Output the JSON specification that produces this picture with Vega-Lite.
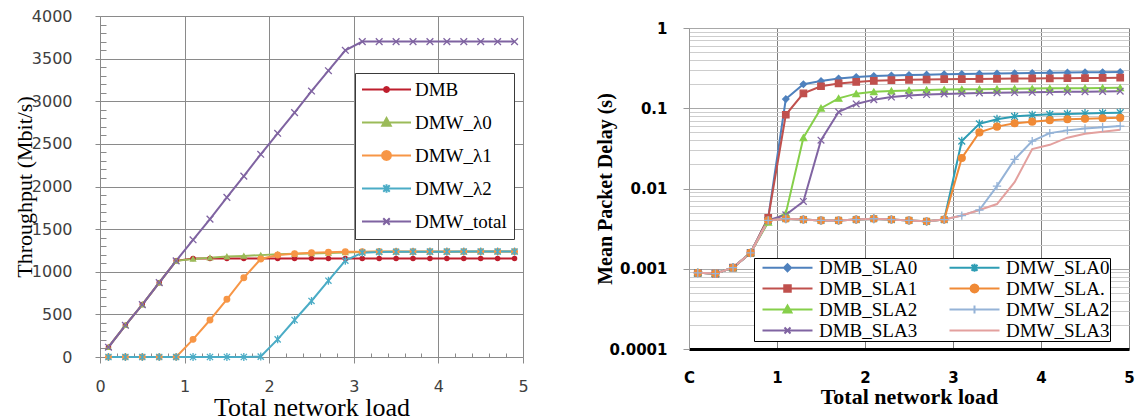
{
"$schema": "https://vega.github.io/schema/vega-lite/v6.json",
"background": "white",
"padding": {"left": 13, "top": 8, "right": 0, "bottom": 0},
"spacing": 58,
"config": {"view": {"stroke": null}},
"hconcat": [
{
"width": 423, "height": 341,
"data": {"values": [
{"x":0.1,"y":115,"s":"DMB"},{"x":0.3,"y":372,"s":"DMB"},{"x":0.5,"y":615,"s":"DMB"},{"x":0.7,"y":872,"s":"DMB"},{"x":0.9,"y":1128,"s":"DMB"},{"x":1.1,"y":1155,"s":"DMB"},{"x":1.3,"y":1155,"s":"DMB"},{"x":1.5,"y":1155,"s":"DMB"},{"x":1.7,"y":1155,"s":"DMB"},{"x":1.9,"y":1155,"s":"DMB"},{"x":2.1,"y":1155,"s":"DMB"},{"x":2.3,"y":1155,"s":"DMB"},{"x":2.5,"y":1155,"s":"DMB"},{"x":2.7,"y":1155,"s":"DMB"},{"x":2.9,"y":1155,"s":"DMB"},{"x":3.1,"y":1155,"s":"DMB"},{"x":3.3,"y":1155,"s":"DMB"},{"x":3.5,"y":1155,"s":"DMB"},{"x":3.7,"y":1155,"s":"DMB"},{"x":3.9,"y":1155,"s":"DMB"},{"x":4.1,"y":1155,"s":"DMB"},{"x":4.3,"y":1155,"s":"DMB"},{"x":4.5,"y":1155,"s":"DMB"},{"x":4.7,"y":1155,"s":"DMB"},{"x":4.9,"y":1155,"s":"DMB"},
{"x":0.1,"y":115,"s":"DMW_λ0"},{"x":0.3,"y":372,"s":"DMW_λ0"},{"x":0.5,"y":615,"s":"DMW_λ0"},{"x":0.7,"y":872,"s":"DMW_λ0"},{"x":0.9,"y":1128,"s":"DMW_λ0"},{"x":1.1,"y":1150,"s":"DMW_λ0"},{"x":1.3,"y":1165,"s":"DMW_λ0"},{"x":1.5,"y":1178,"s":"DMW_λ0"},{"x":1.7,"y":1186,"s":"DMW_λ0"},{"x":1.9,"y":1195,"s":"DMW_λ0"},{"x":2.1,"y":1205,"s":"DMW_λ0"},{"x":2.3,"y":1210,"s":"DMW_λ0"},{"x":2.5,"y":1215,"s":"DMW_λ0"},{"x":2.7,"y":1220,"s":"DMW_λ0"},{"x":2.9,"y":1225,"s":"DMW_λ0"},{"x":3.1,"y":1232,"s":"DMW_λ0"},{"x":3.3,"y":1234,"s":"DMW_λ0"},{"x":3.5,"y":1235,"s":"DMW_λ0"},{"x":3.7,"y":1235,"s":"DMW_λ0"},{"x":3.9,"y":1236,"s":"DMW_λ0"},{"x":4.1,"y":1236,"s":"DMW_λ0"},{"x":4.3,"y":1236,"s":"DMW_λ0"},{"x":4.5,"y":1237,"s":"DMW_λ0"},{"x":4.7,"y":1237,"s":"DMW_λ0"},{"x":4.9,"y":1237,"s":"DMW_λ0"},
{"x":0.1,"y":0,"s":"DMW_λ1"},{"x":0.3,"y":0,"s":"DMW_λ1"},{"x":0.5,"y":0,"s":"DMW_λ1"},{"x":0.7,"y":0,"s":"DMW_λ1"},{"x":0.9,"y":0,"s":"DMW_λ1"},{"x":1.1,"y":207,"s":"DMW_λ1"},{"x":1.3,"y":434,"s":"DMW_λ1"},{"x":1.5,"y":677,"s":"DMW_λ1"},{"x":1.7,"y":930,"s":"DMW_λ1"},{"x":1.9,"y":1150,"s":"DMW_λ1"},{"x":2.1,"y":1196,"s":"DMW_λ1"},{"x":2.3,"y":1212,"s":"DMW_λ1"},{"x":2.5,"y":1224,"s":"DMW_λ1"},{"x":2.7,"y":1228,"s":"DMW_λ1"},{"x":2.9,"y":1235,"s":"DMW_λ1"},{"x":3.1,"y":1236,"s":"DMW_λ1"},{"x":3.3,"y":1237,"s":"DMW_λ1"},{"x":3.5,"y":1237,"s":"DMW_λ1"},{"x":3.7,"y":1238,"s":"DMW_λ1"},{"x":3.9,"y":1238,"s":"DMW_λ1"},{"x":4.1,"y":1238,"s":"DMW_λ1"},{"x":4.3,"y":1238,"s":"DMW_λ1"},{"x":4.5,"y":1238,"s":"DMW_λ1"},{"x":4.7,"y":1238,"s":"DMW_λ1"},{"x":4.9,"y":1238,"s":"DMW_λ1"},
{"x":0.1,"y":0,"s":"DMW_λ2"},{"x":0.3,"y":0,"s":"DMW_λ2"},{"x":0.5,"y":0,"s":"DMW_λ2"},{"x":0.7,"y":0,"s":"DMW_λ2"},{"x":0.9,"y":0,"s":"DMW_λ2"},{"x":1.1,"y":0,"s":"DMW_λ2"},{"x":1.3,"y":0,"s":"DMW_λ2"},{"x":1.5,"y":0,"s":"DMW_λ2"},{"x":1.7,"y":0,"s":"DMW_λ2"},{"x":1.9,"y":5,"s":"DMW_λ2"},{"x":2.1,"y":207,"s":"DMW_λ2"},{"x":2.3,"y":434,"s":"DMW_λ2"},{"x":2.5,"y":657,"s":"DMW_λ2"},{"x":2.7,"y":895,"s":"DMW_λ2"},{"x":2.9,"y":1130,"s":"DMW_λ2"},{"x":3.1,"y":1224,"s":"DMW_λ2"},{"x":3.3,"y":1232,"s":"DMW_λ2"},{"x":3.5,"y":1234,"s":"DMW_λ2"},{"x":3.7,"y":1235,"s":"DMW_λ2"},{"x":3.9,"y":1236,"s":"DMW_λ2"},{"x":4.1,"y":1236,"s":"DMW_λ2"},{"x":4.3,"y":1237,"s":"DMW_λ2"},{"x":4.5,"y":1237,"s":"DMW_λ2"},{"x":4.7,"y":1237,"s":"DMW_λ2"},{"x":4.9,"y":1237,"s":"DMW_λ2"},
{"x":0.1,"y":115,"s":"DMW_total"},{"x":0.3,"y":372,"s":"DMW_total"},{"x":0.5,"y":615,"s":"DMW_total"},{"x":0.7,"y":872,"s":"DMW_total"},{"x":0.9,"y":1128,"s":"DMW_total"},{"x":1.1,"y":1375,"s":"DMW_total"},{"x":1.3,"y":1618,"s":"DMW_total"},{"x":1.5,"y":1872,"s":"DMW_total"},{"x":1.7,"y":2122,"s":"DMW_total"},{"x":1.9,"y":2378,"s":"DMW_total"},{"x":2.1,"y":2624,"s":"DMW_total"},{"x":2.3,"y":2866,"s":"DMW_total"},{"x":2.5,"y":3120,"s":"DMW_total"},{"x":2.7,"y":3358,"s":"DMW_total"},{"x":2.9,"y":3598,"s":"DMW_total"},{"x":3.1,"y":3700,"s":"DMW_total"},{"x":3.3,"y":3700,"s":"DMW_total"},{"x":3.5,"y":3700,"s":"DMW_total"},{"x":3.7,"y":3700,"s":"DMW_total"},{"x":3.9,"y":3700,"s":"DMW_total"},{"x":4.1,"y":3700,"s":"DMW_total"},{"x":4.3,"y":3700,"s":"DMW_total"},{"x":4.5,"y":3700,"s":"DMW_total"},{"x":4.7,"y":3700,"s":"DMW_total"},{"x":4.9,"y":3700,"s":"DMW_total"}
]},
"encoding": {
"x": {"field": "x", "type": "quantitative", "scale": {"domain": [0, 5], "nice": false, "zero": false},
 "axis": {"values": [0,0.2,0.4,0.6,0.8,1,1.2,1.4,1.6,1.8,2,2.2,2.4,2.6,2.8,3,3.2,3.4,3.6,3.8,4,4.2,4.4,4.6,4.8,5],
  "labelExpr": "indexof([0,1,2,3,4,5], datum.value) >= 0 ? '' + datum.value : ''",
  "grid": true, "gridColor": "#8a8a8a", "gridWidth": 1,
  "gridOpacity": {"condition": {"test": "indexof([0,1,2,3,4,5], datum.value) >= 0", "value": 1}, "value": 0},
  "tickSize": {"condition": {"test": "indexof([0,1,2,3,4,5], datum.value) >= 0", "value": 6}, "value": -4},
  "tickColor": "#8a8a8a", "domainColor": "#8a8a8a", "labelFont": "DejaVu Sans", "labelFontSize": 16, "labelColor": "#404040",
  "labelPadding": 15, "labelOverlap": false, "labelFlush": false,
  "title": "Total network load", "titleFont": "Liberation Serif", "titleFontSize": 26, "titleFontWeight": "normal", "titleColor": "black", "titlePadding": 0}},
"y": {"field": "y", "type": "quantitative", "scale": {"domain": [0, 4000], "nice": false},
 "axis": {"values": [0,100,200,300,400,500,600,700,800,900,1000,1100,1200,1300,1400,1500,1600,1700,1800,1900,2000,2100,2200,2300,2400,2500,2600,2700,2800,2900,3000,3100,3200,3300,3400,3500,3600,3700,3800,3900,4000],
  "format": "d", "labelExpr": "datum.value % 500 == 0 ? datum.label : ''",
  "grid": true, "gridColor": "#8a8a8a", "gridWidth": 1,
  "gridOpacity": {"condition": {"test": "datum.value % 500 == 0", "value": 1}, "value": 0},
  "tickSize": {"condition": {"test": "datum.value % 500 == 0", "value": 5}, "value": -6},
  "tickColor": "#8a8a8a", "domainColor": "#8a8a8a", "labelFont": "DejaVu Sans", "labelFontSize": 16, "labelColor": "#404040",
  "labelPadding": 23, "labelOverlap": false,
  "title": "Throughput (Mbit/s)", "titleFont": "Liberation Serif", "titleFontSize": 22, "titleFontWeight": "normal", "titleColor": "black", "titlePadding": -5}}
},
"layer": [
{"mark": {"type": "line", "strokeWidth": 2},
 "encoding": {"stroke": {"field": "s", "type": "nominal", "scale": {"domain": ["DMB","DMW_λ0","DMW_λ1","DMW_λ2","DMW_total"], "range": ["#be1e2d","#9bbb59","#f79646","#4bacc6","#7f63a1"]}, "legend": null}}},
{"mark": {"type": "point", "filled": true, "opacity": 1, "strokeWidth": 1.3},
 "encoding": {
  "fill": {"field": "s", "type": "nominal", "scale": {"domain": ["DMB","DMW_λ0","DMW_λ1","DMW_λ2","DMW_total"], "range": ["#be1e2d","#9bbb59","#f79646","#4bacc6","#7f63a1"]}, "legend": null},
  "stroke": {"field": "s", "type": "nominal", "scale": {"domain": ["DMB","DMW_λ0","DMW_λ1","DMW_λ2","DMW_total"], "range": ["#be1e2d","#9bbb59","#f79646","#4bacc6","#7f63a1"]}, "legend": null},
  "shape": {"field": "s", "type": "nominal", "scale": {"domain": ["DMB","DMW_λ0","DMW_λ1","DMW_λ2","DMW_total"], "range": ["circle","triangle-up","circle","M-1,-1L1,1M-1,1L1,-1M0,-1.3L0,1.3","M-1,-1L1,1M-1,1L1,-1"]}, "legend": null},
  "size": {"field": "s", "type": "nominal", "scale": {"domain": ["DMB","DMW_λ0","DMW_λ1","DMW_λ2","DMW_total"], "range": [18,45,70,55,50]}, "legend": null}}},
{"mark": {"type": "point", "filled": true, "opacity": 0},
 "encoding": {
  "fill": {"field": "s", "type": "nominal", "scale": {"domain": ["DMB","DMW_λ0","DMW_λ1","DMW_λ2","DMW_total"], "range": ["#be1e2d","#9bbb59","#f79646","#4bacc6","#7f63a1"]},
   "legend": {"title": null, "orient": "none", "legendX": 255, "legendY": 57, "direction": "vertical", "symbolSize": 100, "symbolStrokeWidth": 2, "symbolOpacity": 1, "labelFont": "Liberation Serif", "labelFontSize": 19, "labelColor": "black", "labelOffset": 34, "rowPadding": 13, "padding": 7, "strokeColor": "#3a3a3a", "fillColor": "white", "labelLimit": 300}},
  "stroke": {"field": "s", "type": "nominal", "scale": {"domain": ["DMB","DMW_λ0","DMW_λ1","DMW_λ2","DMW_total"], "range": ["#be1e2d","#9bbb59","#f79646","#4bacc6","#7f63a1"]},
   "legend": {"title": null, "orient": "none", "legendX": 255, "legendY": 57, "direction": "vertical", "symbolSize": 100, "symbolStrokeWidth": 2, "symbolOpacity": 1, "labelFont": "Liberation Serif", "labelFontSize": 19, "labelColor": "black", "labelOffset": 34, "rowPadding": 13, "padding": 7, "strokeColor": "#3a3a3a", "fillColor": "white", "labelLimit": 300}},
  "shape": {"field": "s", "type": "nominal", "scale": {"domain": ["DMB","DMW_λ0","DMW_λ1","DMW_λ2","DMW_total"], "range": [
    "M-1.9,0L7.9,0M3.5,0L3.433,0.25L3.25,0.433L3,0.5L2.75,0.433L2.567,0.25L2.5,0L2.567,-0.25L2.75,-0.433L3,-0.5L3.25,-0.433L3.433,-0.25Z",
    "M-1.9,0L7.9,0M3,-0.9L3.85,0.65L2.15,0.65Z",
    "M-1.9,0L7.9,0M3.9,0L3.779,0.45L3.45,0.779L3,0.9L2.55,0.779L2.221,0.45L2.1,0L2.221,-0.45L2.55,-0.779L3,-0.9L3.45,-0.779L3.779,-0.45Z",
    "M-1.9,0L7.9,0M2.35,-0.65L3.65,0.65M2.35,0.65L3.65,-0.65M3,-0.85L3,0.85",
    "M-1.9,0L7.9,0M2.35,-0.65L3.65,0.65M2.35,0.65L3.65,-0.65"]},
   "legend": {"title": null, "orient": "none", "legendX": 255, "legendY": 57, "direction": "vertical", "symbolSize": 100, "symbolStrokeWidth": 2, "symbolOpacity": 1, "labelFont": "Liberation Serif", "labelFontSize": 19, "labelColor": "black", "labelOffset": 34, "rowPadding": 13, "padding": 7, "strokeColor": "#3a3a3a", "fillColor": "white", "labelLimit": 300}}}}
],
"resolve": {"scale": {"stroke": "independent", "fill": "independent", "shape": "independent", "size": "independent"}}
},
{
"spacing": 4,
"vconcat": [
{"width": 440, "height": 1, "data": {"values": []}, "mark": "point"},
{
"width": 440, "height": 321,
"data": {"values": [
{"x":0.1,"y":0.00089,"s":"DMB_SLA0"},{"x":0.3,"y":0.00087,"s":"DMB_SLA0"},{"x":0.5,"y":0.00103,"s":"DMB_SLA0"},{"x":0.7,"y":0.00158,"s":"DMB_SLA0"},{"x":0.9,"y":0.0043,"s":"DMB_SLA0"},{"x":1.1,"y":0.13,"s":"DMB_SLA0"},{"x":1.3,"y":0.199,"s":"DMB_SLA0"},{"x":1.5,"y":0.218,"s":"DMB_SLA0"},{"x":1.7,"y":0.235,"s":"DMB_SLA0"},{"x":1.9,"y":0.245,"s":"DMB_SLA0"},{"x":2.1,"y":0.252,"s":"DMB_SLA0"},{"x":2.3,"y":0.256,"s":"DMB_SLA0"},{"x":2.5,"y":0.259,"s":"DMB_SLA0"},{"x":2.7,"y":0.262,"s":"DMB_SLA0"},{"x":2.9,"y":0.265,"s":"DMB_SLA0"},{"x":3.1,"y":0.267,"s":"DMB_SLA0"},{"x":3.3,"y":0.269,"s":"DMB_SLA0"},{"x":3.5,"y":0.271,"s":"DMB_SLA0"},{"x":3.7,"y":0.273,"s":"DMB_SLA0"},{"x":3.9,"y":0.275,"s":"DMB_SLA0"},{"x":4.1,"y":0.277,"s":"DMB_SLA0"},{"x":4.3,"y":0.278,"s":"DMB_SLA0"},{"x":4.5,"y":0.28,"s":"DMB_SLA0"},{"x":4.7,"y":0.281,"s":"DMB_SLA0"},{"x":4.9,"y":0.283,"s":"DMB_SLA0"},
{"x":0.1,"y":0.00089,"s":"DMB_SLA1"},{"x":0.3,"y":0.00087,"s":"DMB_SLA1"},{"x":0.5,"y":0.00103,"s":"DMB_SLA1"},{"x":0.7,"y":0.00158,"s":"DMB_SLA1"},{"x":0.9,"y":0.0043,"s":"DMB_SLA1"},{"x":1.1,"y":0.083,"s":"DMB_SLA1"},{"x":1.3,"y":0.153,"s":"DMB_SLA1"},{"x":1.5,"y":0.188,"s":"DMB_SLA1"},{"x":1.7,"y":0.204,"s":"DMB_SLA1"},{"x":1.9,"y":0.213,"s":"DMB_SLA1"},{"x":2.1,"y":0.22,"s":"DMB_SLA1"},{"x":2.3,"y":0.224,"s":"DMB_SLA1"},{"x":2.5,"y":0.226,"s":"DMB_SLA1"},{"x":2.7,"y":0.228,"s":"DMB_SLA1"},{"x":2.9,"y":0.23,"s":"DMB_SLA1"},{"x":3.1,"y":0.231,"s":"DMB_SLA1"},{"x":3.3,"y":0.232,"s":"DMB_SLA1"},{"x":3.5,"y":0.233,"s":"DMB_SLA1"},{"x":3.7,"y":0.234,"s":"DMB_SLA1"},{"x":3.9,"y":0.235,"s":"DMB_SLA1"},{"x":4.1,"y":0.236,"s":"DMB_SLA1"},{"x":4.3,"y":0.237,"s":"DMB_SLA1"},{"x":4.5,"y":0.238,"s":"DMB_SLA1"},{"x":4.7,"y":0.239,"s":"DMB_SLA1"},{"x":4.9,"y":0.24,"s":"DMB_SLA1"},
{"x":0.1,"y":0.00089,"s":"DMB_SLA2"},{"x":0.3,"y":0.00087,"s":"DMB_SLA2"},{"x":0.5,"y":0.00103,"s":"DMB_SLA2"},{"x":0.7,"y":0.00158,"s":"DMB_SLA2"},{"x":0.9,"y":0.0038,"s":"DMB_SLA2"},{"x":1.1,"y":0.0049,"s":"DMB_SLA2"},{"x":1.3,"y":0.043,"s":"DMB_SLA2"},{"x":1.5,"y":0.1,"s":"DMB_SLA2"},{"x":1.7,"y":0.133,"s":"DMB_SLA2"},{"x":1.9,"y":0.152,"s":"DMB_SLA2"},{"x":2.1,"y":0.16,"s":"DMB_SLA2"},{"x":2.3,"y":0.164,"s":"DMB_SLA2"},{"x":2.5,"y":0.167,"s":"DMB_SLA2"},{"x":2.7,"y":0.169,"s":"DMB_SLA2"},{"x":2.9,"y":0.171,"s":"DMB_SLA2"},{"x":3.1,"y":0.172,"s":"DMB_SLA2"},{"x":3.3,"y":0.173,"s":"DMB_SLA2"},{"x":3.5,"y":0.174,"s":"DMB_SLA2"},{"x":3.7,"y":0.175,"s":"DMB_SLA2"},{"x":3.9,"y":0.176,"s":"DMB_SLA2"},{"x":4.1,"y":0.177,"s":"DMB_SLA2"},{"x":4.3,"y":0.178,"s":"DMB_SLA2"},{"x":4.5,"y":0.178,"s":"DMB_SLA2"},{"x":4.7,"y":0.179,"s":"DMB_SLA2"},{"x":4.9,"y":0.18,"s":"DMB_SLA2"},
{"x":0.1,"y":0.00089,"s":"DMB_SLA3"},{"x":0.3,"y":0.00087,"s":"DMB_SLA3"},{"x":0.5,"y":0.00103,"s":"DMB_SLA3"},{"x":0.7,"y":0.00158,"s":"DMB_SLA3"},{"x":0.9,"y":0.004,"s":"DMB_SLA3"},{"x":1.1,"y":0.0047,"s":"DMB_SLA3"},{"x":1.3,"y":0.0069,"s":"DMB_SLA3"},{"x":1.5,"y":0.04,"s":"DMB_SLA3"},{"x":1.7,"y":0.09,"s":"DMB_SLA3"},{"x":1.9,"y":0.113,"s":"DMB_SLA3"},{"x":2.1,"y":0.128,"s":"DMB_SLA3"},{"x":2.3,"y":0.138,"s":"DMB_SLA3"},{"x":2.5,"y":0.144,"s":"DMB_SLA3"},{"x":2.7,"y":0.148,"s":"DMB_SLA3"},{"x":2.9,"y":0.151,"s":"DMB_SLA3"},{"x":3.1,"y":0.153,"s":"DMB_SLA3"},{"x":3.3,"y":0.155,"s":"DMB_SLA3"},{"x":3.5,"y":0.156,"s":"DMB_SLA3"},{"x":3.7,"y":0.157,"s":"DMB_SLA3"},{"x":3.9,"y":0.158,"s":"DMB_SLA3"},{"x":4.1,"y":0.159,"s":"DMB_SLA3"},{"x":4.3,"y":0.16,"s":"DMB_SLA3"},{"x":4.5,"y":0.161,"s":"DMB_SLA3"},{"x":4.7,"y":0.162,"s":"DMB_SLA3"},{"x":4.9,"y":0.163,"s":"DMB_SLA3"},
{"x":0.1,"y":0.00089,"s":"DMW_SLA0"},{"x":0.3,"y":0.00087,"s":"DMW_SLA0"},{"x":0.5,"y":0.00103,"s":"DMW_SLA0"},{"x":0.7,"y":0.00158,"s":"DMW_SLA0"},{"x":0.9,"y":0.004,"s":"DMW_SLA0"},{"x":1.1,"y":0.0042,"s":"DMW_SLA0"},{"x":1.3,"y":0.0041,"s":"DMW_SLA0"},{"x":1.5,"y":0.004,"s":"DMW_SLA0"},{"x":1.7,"y":0.004,"s":"DMW_SLA0"},{"x":1.9,"y":0.0041,"s":"DMW_SLA0"},{"x":2.1,"y":0.0042,"s":"DMW_SLA0"},{"x":2.3,"y":0.0041,"s":"DMW_SLA0"},{"x":2.5,"y":0.004,"s":"DMW_SLA0"},{"x":2.7,"y":0.0039,"s":"DMW_SLA0"},{"x":2.9,"y":0.0041,"s":"DMW_SLA0"},{"x":3.1,"y":0.039,"s":"DMW_SLA0"},{"x":3.3,"y":0.064,"s":"DMW_SLA0"},{"x":3.5,"y":0.073,"s":"DMW_SLA0"},{"x":3.7,"y":0.079,"s":"DMW_SLA0"},{"x":3.9,"y":0.082,"s":"DMW_SLA0"},{"x":4.1,"y":0.084,"s":"DMW_SLA0"},{"x":4.3,"y":0.085,"s":"DMW_SLA0"},{"x":4.5,"y":0.086,"s":"DMW_SLA0"},{"x":4.7,"y":0.087,"s":"DMW_SLA0"},{"x":4.9,"y":0.088,"s":"DMW_SLA0"},
{"x":0.1,"y":0.00089,"s":"DMW_SLA."},{"x":0.3,"y":0.00087,"s":"DMW_SLA."},{"x":0.5,"y":0.00103,"s":"DMW_SLA."},{"x":0.7,"y":0.00158,"s":"DMW_SLA."},{"x":0.9,"y":0.004,"s":"DMW_SLA."},{"x":1.1,"y":0.0042,"s":"DMW_SLA."},{"x":1.3,"y":0.0041,"s":"DMW_SLA."},{"x":1.5,"y":0.004,"s":"DMW_SLA."},{"x":1.7,"y":0.004,"s":"DMW_SLA."},{"x":1.9,"y":0.0041,"s":"DMW_SLA."},{"x":2.1,"y":0.0042,"s":"DMW_SLA."},{"x":2.3,"y":0.0041,"s":"DMW_SLA."},{"x":2.5,"y":0.004,"s":"DMW_SLA."},{"x":2.7,"y":0.0039,"s":"DMW_SLA."},{"x":2.9,"y":0.0041,"s":"DMW_SLA."},{"x":3.1,"y":0.024,"s":"DMW_SLA."},{"x":3.3,"y":0.05,"s":"DMW_SLA."},{"x":3.5,"y":0.059,"s":"DMW_SLA."},{"x":3.7,"y":0.065,"s":"DMW_SLA."},{"x":3.9,"y":0.068,"s":"DMW_SLA."},{"x":4.1,"y":0.071,"s":"DMW_SLA."},{"x":4.3,"y":0.073,"s":"DMW_SLA."},{"x":4.5,"y":0.074,"s":"DMW_SLA."},{"x":4.7,"y":0.075,"s":"DMW_SLA."},{"x":4.9,"y":0.076,"s":"DMW_SLA."},
{"x":0.1,"y":0.00089,"s":"DMW_SLA2"},{"x":0.3,"y":0.00087,"s":"DMW_SLA2"},{"x":0.5,"y":0.00103,"s":"DMW_SLA2"},{"x":0.7,"y":0.00158,"s":"DMW_SLA2"},{"x":0.9,"y":0.004,"s":"DMW_SLA2"},{"x":1.1,"y":0.0042,"s":"DMW_SLA2"},{"x":1.3,"y":0.0041,"s":"DMW_SLA2"},{"x":1.5,"y":0.004,"s":"DMW_SLA2"},{"x":1.7,"y":0.004,"s":"DMW_SLA2"},{"x":1.9,"y":0.0041,"s":"DMW_SLA2"},{"x":2.1,"y":0.0042,"s":"DMW_SLA2"},{"x":2.3,"y":0.0041,"s":"DMW_SLA2"},{"x":2.5,"y":0.004,"s":"DMW_SLA2"},{"x":2.7,"y":0.0039,"s":"DMW_SLA2"},{"x":2.9,"y":0.0041,"s":"DMW_SLA2"},{"x":3.1,"y":0.0046,"s":"DMW_SLA2"},{"x":3.3,"y":0.0054,"s":"DMW_SLA2"},{"x":3.5,"y":0.0107,"s":"DMW_SLA2"},{"x":3.7,"y":0.023,"s":"DMW_SLA2"},{"x":3.9,"y":0.039,"s":"DMW_SLA2"},{"x":4.1,"y":0.049,"s":"DMW_SLA2"},{"x":4.3,"y":0.053,"s":"DMW_SLA2"},{"x":4.5,"y":0.056,"s":"DMW_SLA2"},{"x":4.7,"y":0.058,"s":"DMW_SLA2"},{"x":4.9,"y":0.06,"s":"DMW_SLA2"},
{"x":0.1,"y":0.00089,"s":"DMW_SLA3"},{"x":0.3,"y":0.00087,"s":"DMW_SLA3"},{"x":0.5,"y":0.00103,"s":"DMW_SLA3"},{"x":0.7,"y":0.00158,"s":"DMW_SLA3"},{"x":0.9,"y":0.004,"s":"DMW_SLA3"},{"x":1.1,"y":0.0042,"s":"DMW_SLA3"},{"x":1.3,"y":0.0041,"s":"DMW_SLA3"},{"x":1.5,"y":0.004,"s":"DMW_SLA3"},{"x":1.7,"y":0.004,"s":"DMW_SLA3"},{"x":1.9,"y":0.0041,"s":"DMW_SLA3"},{"x":2.1,"y":0.0042,"s":"DMW_SLA3"},{"x":2.3,"y":0.0041,"s":"DMW_SLA3"},{"x":2.5,"y":0.004,"s":"DMW_SLA3"},{"x":2.7,"y":0.0039,"s":"DMW_SLA3"},{"x":2.9,"y":0.0041,"s":"DMW_SLA3"},{"x":3.1,"y":0.0046,"s":"DMW_SLA3"},{"x":3.3,"y":0.0054,"s":"DMW_SLA3"},{"x":3.5,"y":0.0064,"s":"DMW_SLA3"},{"x":3.7,"y":0.012,"s":"DMW_SLA3"},{"x":3.9,"y":0.031,"s":"DMW_SLA3"},{"x":4.1,"y":0.035,"s":"DMW_SLA3"},{"x":4.3,"y":0.043,"s":"DMW_SLA3"},{"x":4.5,"y":0.048,"s":"DMW_SLA3"},{"x":4.7,"y":0.051,"s":"DMW_SLA3"},{"x":4.9,"y":0.054,"s":"DMW_SLA3"}
]},
"encoding": {
"x": {"field": "x", "type": "quantitative", "scale": {"domain": [0, 5], "nice": false, "zero": false},
 "axis": {"values": [0,1,2,3,4,5], "format": "d", "labelExpr": "datum.value == 0 ? 'C' : datum.label",
  "grid": true, "gridColor": "#7f7f7f", "ticks": false, "domainColor": "#000000", "domainWidth": 3,
  "labelFont": "DejaVu Sans", "labelFontSize": 15, "labelFontWeight": "bold", "labelColor": "black", "labelPadding": 21, "labelFlush": false, "labelOverlap": false,
  "title": "Total network load", "titleFont": "Liberation Serif", "titleFontSize": 22, "titleFontWeight": "bold", "titleColor": "black", "titlePadding": 1}},
"y": {"field": "y", "type": "quantitative", "scale": {"type": "log", "domain": [0.0001, 1], "nice": false},
 "axis": {"values": [0.0001,0.0002,0.0003,0.0004,0.0005,0.0006,0.0007,0.0008,0.0009,0.001,0.002,0.003,0.004,0.005,0.006,0.007,0.008,0.009,0.01,0.02,0.03,0.04,0.05,0.06,0.07,0.08,0.09,0.1,0.2,0.3,0.4,0.5,0.6,0.7,0.8,0.9,1],
  "labelExpr": "datum.value == 1 ? '1' : datum.value == 0.1 ? '0.1' : datum.value == 0.01 ? '0.01' : datum.value == 0.001 ? '0.001' : datum.value == 0.0001 ? '0.0001' : ''",
  "grid": true,
  "gridColor": {"condition": {"test": "indexof([1,0.1,0.01,0.001,0.0001], datum.value) >= 0", "value": "#a8a8a8"}, "value": "#cdcdcd"},
  "tickOpacity": {"condition": {"test": "indexof([1,0.1,0.01,0.001,0.0001], datum.value) >= 0", "value": 1}, "value": 0},
  "tickSize": 6, "tickColor": "#999999", "domainColor": "#999999",
  "labelFont": "DejaVu Sans", "labelFontSize": 15, "labelFontWeight": "bold", "labelColor": "black", "labelPadding": 16, "labelOverlap": false,
  "title": "Mean Packet Delay (s)", "titleFont": "Liberation Serif", "titleFontSize": 20, "titleFontWeight": "bold", "titleColor": "black", "titlePadding": -6}}
},
"layer": [
{"mark": {"type": "line", "strokeWidth": 2},
 "encoding": {"stroke": {"field": "s", "type": "nominal", "scale": {"domain": ["DMB_SLA0","DMB_SLA1","DMB_SLA2","DMB_SLA3","DMW_SLA0","DMW_SLA.","DMW_SLA2","DMW_SLA3"], "range": ["#4f81bd","#c0504d","#86cf4a","#8064a2","#2e9db4","#f08a36","#95b3d7","#e3a09e"]}, "legend": null}}},
{"transform": [{"filter": "datum.s != 'DMW_SLA3'"}],
 "mark": {"type": "point", "filled": true, "opacity": 1, "strokeWidth": 1.3},
 "encoding": {
  "fill": {"field": "s", "type": "nominal", "scale": {"domain": ["DMB_SLA0","DMB_SLA1","DMB_SLA2","DMB_SLA3","DMW_SLA0","DMW_SLA.","DMW_SLA2","DMW_SLA3"], "range": ["#4f81bd","#c0504d","#86cf4a","#8064a2","#2e9db4","#f08a36","#95b3d7","#e3a09e"]}, "legend": null},
  "stroke": {"field": "s", "type": "nominal", "scale": {"domain": ["DMB_SLA0","DMB_SLA1","DMB_SLA2","DMB_SLA3","DMW_SLA0","DMW_SLA.","DMW_SLA2","DMW_SLA3"], "range": ["#4f81bd","#c0504d","#86cf4a","#8064a2","#2e9db4","#f08a36","#95b3d7","#e3a09e"]}, "legend": null},
  "shape": {"field": "s", "type": "nominal", "scale": {"domain": ["DMB_SLA0","DMB_SLA1","DMB_SLA2","DMB_SLA3","DMW_SLA0","DMW_SLA.","DMW_SLA2","DMW_SLA3"], "range": ["diamond","square","triangle-up","M-1,-1L1,1M-1,1L1,-1","M-1,-1L1,1M-1,1L1,-1M0,-1.3L0,1.3","circle","M-1.2,0L1.2,0M0,-1.2L0,1.2","circle"]}, "legend": null},
  "size": {"field": "s", "type": "nominal", "scale": {"domain": ["DMB_SLA0","DMB_SLA1","DMB_SLA2","DMB_SLA3","DMW_SLA0","DMW_SLA.","DMW_SLA2","DMW_SLA3"], "range": [40,50,50,40,50,60,50,0]}, "legend": null}}},
{"mark": {"type": "point", "filled": true, "opacity": 0},
 "encoding": {
  "fill": {"field": "s", "type": "nominal", "scale": {"domain": ["DMB_SLA0","DMB_SLA1","DMB_SLA2","DMB_SLA3","DMW_SLA0","DMW_SLA.","DMW_SLA2","DMW_SLA3"], "range": ["#4f81bd","#c0504d","#86cf4a","#8064a2","#2e9db4","#f08a36","#95b3d7","#e3a09e"]},
   "legend": {"title": null, "orient": "none", "legendX": 65, "legendY": 230, "direction": "vertical", "columns": 2, "symbolSize": 100, "symbolStrokeWidth": 2, "symbolOpacity": 1, "labelFont": "Liberation Serif", "labelFontSize": 19, "labelColor": "black", "labelOffset": 46, "rowPadding": 1, "columnPadding": 23, "padding": 0, "strokeColor": "black", "fillColor": "white", "labelLimit": 300}},
  "stroke": {"field": "s", "type": "nominal", "scale": {"domain": ["DMB_SLA0","DMB_SLA1","DMB_SLA2","DMB_SLA3","DMW_SLA0","DMW_SLA.","DMW_SLA2","DMW_SLA3"], "range": ["#4f81bd","#c0504d","#86cf4a","#8064a2","#2e9db4","#f08a36","#95b3d7","#e3a09e"]},
   "legend": {"title": null, "orient": "none", "legendX": 65, "legendY": 230, "direction": "vertical", "columns": 2, "symbolSize": 100, "symbolStrokeWidth": 2, "symbolOpacity": 1, "labelFont": "Liberation Serif", "labelFontSize": 19, "labelColor": "black", "labelOffset": 46, "rowPadding": 1, "columnPadding": 23, "padding": 0, "strokeColor": "black", "fillColor": "white", "labelLimit": 300}},
  "shape": {"field": "s", "type": "nominal", "scale": {"domain": ["DMB_SLA0","DMB_SLA1","DMB_SLA2","DMB_SLA3","DMW_SLA0","DMW_SLA.","DMW_SLA2","DMW_SLA3"], "range": [
    "M-0.2,0L9.8,0M4.8,-0.7L5.5,0L4.8,0.7L4.1,0Z",
    "M-0.2,0L9.8,0M4.15,-0.65L5.45,-0.65L5.45,0.65L4.15,0.65Z",
    "M-0.2,0L9.8,0M4.8,-0.8L5.6,0.6L4,0.6Z",
    "M-0.2,0L9.8,0M4.2,-0.6L5.4,0.6M4.2,0.6L5.4,-0.6",
    "M-0.2,0L9.8,0M4.2,-0.6L5.4,0.6M4.2,0.6L5.4,-0.6M4.8,-0.8L4.8,0.8",
    "M-0.2,0L9.8,0M5.6,0L5.493,0.4L5.2,0.693L4.8,0.8L4.4,0.693L4.107,0.4L4,0L4.107,-0.4L4.4,-0.693L4.8,-0.8L5.2,-0.693L5.493,-0.4Z",
    "M-0.2,0L9.8,0M4.8,-0.8L4.8,0.8",
    "M-0.2,0L9.8,0"]},
   "legend": {"title": null, "orient": "none", "legendX": 65, "legendY": 230, "direction": "vertical", "columns": 2, "symbolSize": 100, "symbolStrokeWidth": 2, "symbolOpacity": 1, "labelFont": "Liberation Serif", "labelFontSize": 19, "labelColor": "black", "labelOffset": 46, "rowPadding": 1, "columnPadding": 23, "padding": 0, "strokeColor": "black", "fillColor": "white", "labelLimit": 300}}}}
],
"resolve": {"scale": {"stroke": "independent", "fill": "independent", "shape": "independent", "size": "independent"}}
}
]
}
],
"resolve": {"scale": {"stroke": "independent", "fill": "independent", "shape": "independent", "size": "independent"}}
}
